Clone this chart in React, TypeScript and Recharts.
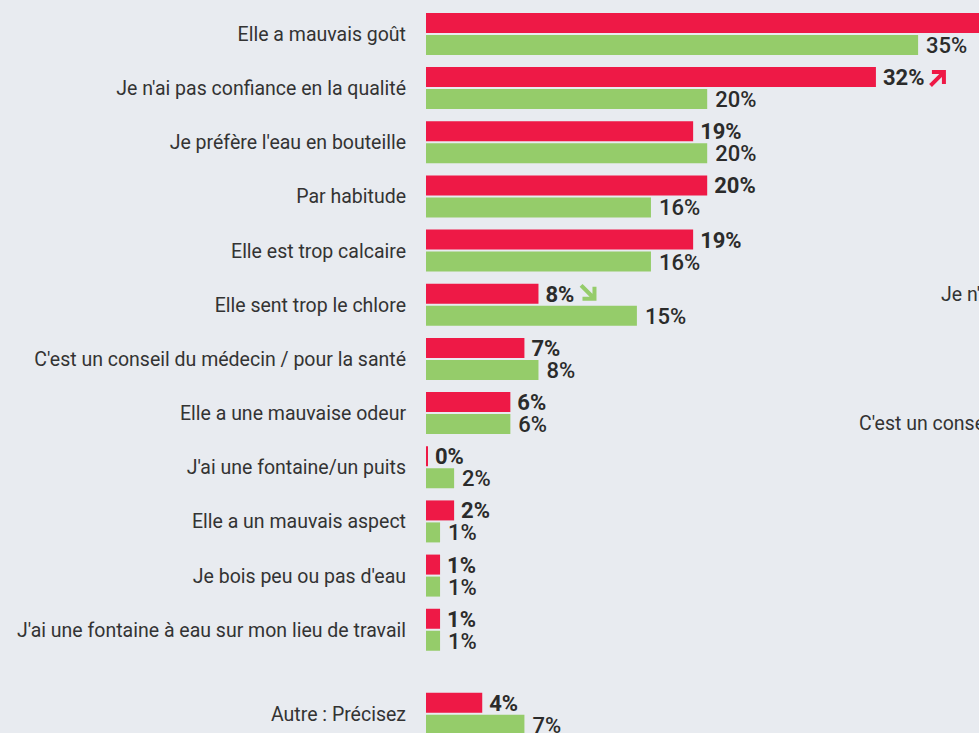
import React from "react";
import { BarChart, Bar, XAxis, YAxis, LabelList } from "recharts";

const RED = "#ee1946";
const GREEN = "#95cc6a";
const BG = "#e8ebf0";
const INK = "#2b2b2b";

const categories = [
  "Elle a mauvais goût",
  "Je n'ai pas confiance en la qualité",
  "Je préfère l'eau en bouteille",
  "Par habitude",
  "Elle est trop calcaire",
  "Elle sent trop le chlore",
  "C'est un conseil du médecin / pour la santé",
  "Elle a une mauvaise odeur",
  "J'ai une fontaine/un puits",
  "Elle a un mauvais aspect",
  "Je bois peu ou pas d'eau",
  "J'ai une fontaine à eau sur mon lieu de travail",
  "Autre : Précisez",
];
// row positions (the last row sits after a gap)
const positions = [0, 1, 2, 3, 4, 5, 6, 7, 8, 9, 10, 11, 12.55];
const current = [42, 32, 19, 20, 19, 8, 7, 6, 0, 2, 1, 1, 4];
const previous = [35, 20, 20, 16, 16, 15, 8, 6, 2, 1, 1, 1, 7];
const trends = ["", "up", "", "", "", "down", "", "", "", "", "", "", ""];

const data = categories.map((name, i) => ({
  name,
  pos: positions[i],
  current: current[i],
  previous: previous[i],
  trend: trends[i],
}));

const labelFor = (v: number) => categories[positions.indexOf(v)] ?? "";

const Arrow = ({ x, y, dir, color }: { x: number; y: number; dir: string; color: string }) => {
  const d =
    dir === "up"
      ? `M${x + 1},${y + 7} L${x + 12},${y - 4} M${x + 3},${y - 5} L${x + 13},${y - 5} L${x + 13},${y + 5}`
      : `M${x + 1},${y - 7} L${x + 12},${y + 4} M${x + 3},${y + 5} L${x + 13},${y + 5} L${x + 13},${y - 5}`;
  return <path d={d} stroke={color} strokeWidth={4} fill="none" strokeLinecap="square" />;
};

const makeLabel = (bold: boolean) => (props: any) => {
  const { x, y, width, height, value, index } = props;
  const tx = x + width + (bold ? 7 : 8);
  const ty = y + height / 2;
  const txt = `${value}%`;
  const trend = bold ? trends[index] : "";
  const textW = (txt.length - 1) * 12 + 19;
  return (
    <g>
      <text
        x={tx}
        y={ty}
        dy="0.36em"
        fill={INK}
        fontSize={22}
        fontWeight={bold ? 700 : 500}
        fontFamily="Roboto, sans-serif"
      >
        {txt}
      </text>
      {trend ? (
        <Arrow x={tx + textW + 5} y={ty} dir={trend} color={trend === "up" ? RED : GREEN} />
      ) : null}
    </g>
  );
};

export default function App() {
  return (
    <div
      style={{
        position: "fixed",
        left: 0,
        top: 0,
        width: 979,
        height: 733,
        overflow: "hidden",
        background: BG,
        fontFamily: "Roboto, sans-serif",
      }}
    >
      <BarChart
        width={1200}
        height={749}
        data={data}
        layout="vertical"
        margin={{ top: 0, right: 71, left: 0, bottom: 0 }}
        barSize={20}
        barGap={2}
      >
        <XAxis type="number" domain={[0, 50]} hide />
        <YAxis
          type="number"
          dataKey="pos"
          domain={[-0.628, 13.2]}
          ticks={positions}
          interval={0}
          width={426}
          axisLine={false}
          tickLine={false}
          tickSize={0}
          tickMargin={20}
          tickFormatter={labelFor}
          tick={{ fill: "#333", fontSize: 19.5, fontFamily: "Roboto, sans-serif" }}
          allowDataOverflow
        />
        <Bar dataKey="current" fill={RED} minPointSize={2} isAnimationActive={false}>
          <LabelList dataKey="current" content={makeLabel(true)} />
        </Bar>
        <Bar dataKey="previous" fill={GREEN} isAnimationActive={false}>
          <LabelList dataKey="previous" content={makeLabel(false)} />
        </Bar>
      </BarChart>
      <div style={{ position: "absolute", left: 941, top: 283, fontSize: 19.5, color: "#333", whiteSpace: "nowrap" }}>
        Je n'ai pas confiance en la qualité
      </div>
      <div style={{ position: "absolute", left: 859, top: 412, fontSize: 19.5, color: "#333", whiteSpace: "nowrap" }}>
        C'est un conseil du médecin / pour la santé
      </div>
    </div>
  );
}
